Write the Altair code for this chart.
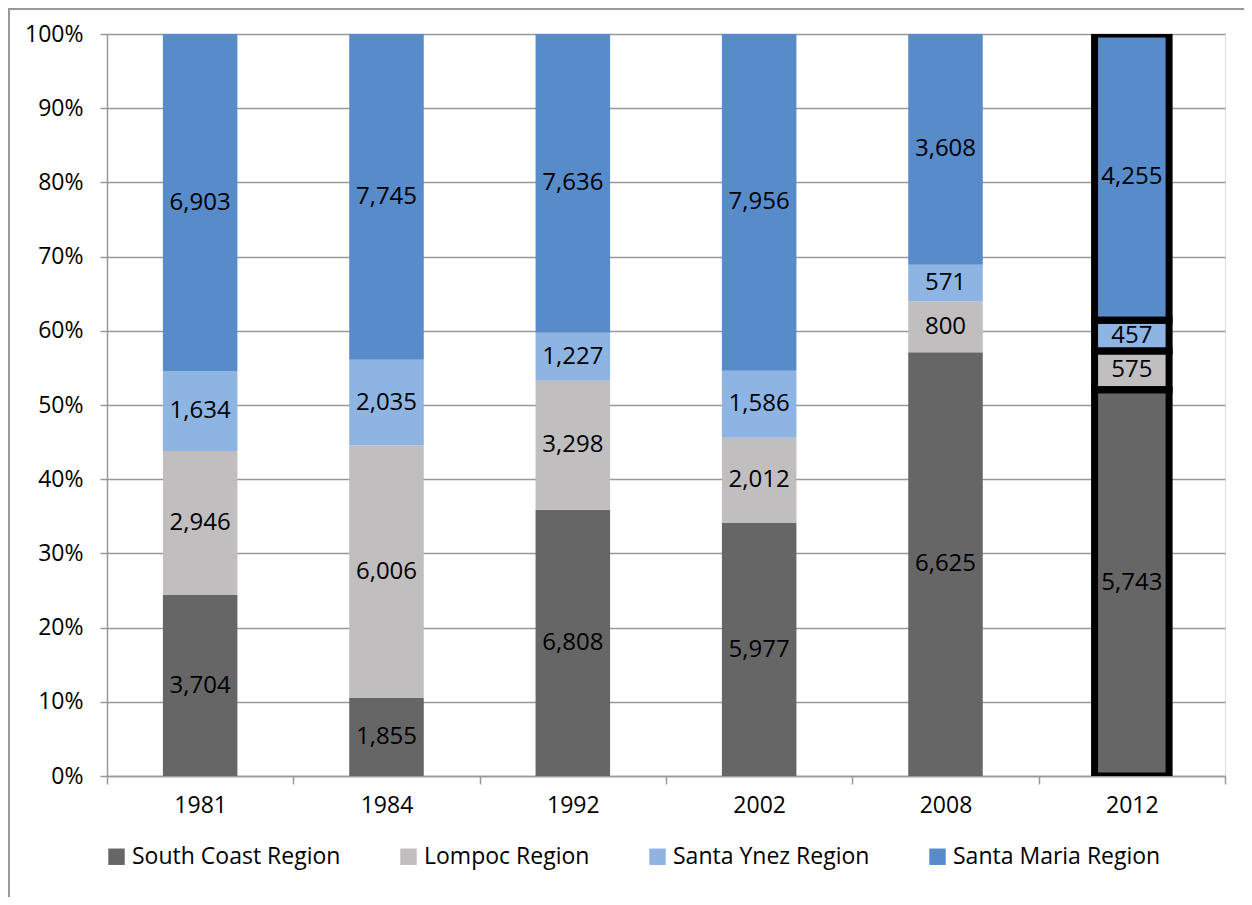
import altair as alt
import pandas as pd

years = ["1981", "1984", "1992", "2002", "2008", "2012"]
regions = ["South Coast Region", "Lompoc Region", "Santa Ynez Region", "Santa Maria Region"]
south_coast = [3704, 1855, 6808, 5977, 6625, 5743]
lompoc = [2946, 6006, 3298, 2012, 800, 575]
santa_ynez = [1634, 2035, 1227, 1586, 571, 457]
santa_maria = [6903, 7745, 7636, 7956, 3608, 4255]
colors = ["#666666", "#C0BEBE", "#8EB4E3", "#588BCA"]

series = [south_coast, lompoc, santa_ynez, santa_maria]
rows = []
for yi, y in enumerate(years):
    for ri, r in enumerate(regions):
        rows.append({"year": y, "region": r, "ord": ri, "value": series[ri][yi]})
df = pd.DataFrame(rows)

FONT = "Open Sans"
W, H = 1118, 742

base = alt.Chart(df).transform_joinaggregate(
    total="sum(value)", groupby=["year"]
).transform_calculate(
    pct="datum.value / datum.total"
).transform_window(
    cum="sum(pct)", sort=[alt.SortField("ord")], groupby=["year"], frame=[None, 0]
).transform_calculate(
    start="datum.cum - datum.pct", mid="datum.cum - datum.pct / 2",
    label="format(datum.value, ',')"
)

xscale = alt.Scale(paddingInner=0, paddingOuter=0)
xenc = alt.X("year:N", sort=years, title=None, scale=xscale,
             axis=alt.Axis(tickBand="extent", labelAngle=0, labelFont=FONT, labelFontSize=23,
                           labelColor="black", domainColor="#999999", domainWidth=1.5,
                           tickColor="#999999", tickWidth=1.5, tickSize=8, labelPadding=10, grid=False))

bars = base.mark_bar(width=alt.RelativeBandSize(0.4)).encode(
    x=xenc,
    y=alt.Y("start:Q", scale=alt.Scale(domain=[0, 1]), title=None,
            axis=alt.Axis(values=[i / 10 for i in range(11)], format=".0%", labelFont=FONT,
                          labelFontSize=23, labelColor="black", gridColor="#999999", gridWidth=1.5,
                          domainColor="#999999", domainWidth=1.5, tickColor="#999999",
                          tickWidth=1.5, tickSize=7, labelPadding=17)),
    y2="cum:Q",
    color=alt.Color("region:N", scale=alt.Scale(domain=regions, range=colors), title=None,
                    legend=alt.Legend(orient="none", legendX=-2, legendY=811, direction="horizontal",
                                      symbolType="square", symbolSize=270, symbolStrokeWidth=0,
                                      labelFont=FONT, labelFontSize=23, labelColor="black",
                                      columnPadding=56, labelOffset=4, labelLimit=400)),
    order=alt.Order("ord:Q"),
)

outline = base.mark_bar(width=alt.RelativeBandSize(0.4), fillOpacity=0, stroke="black",
                        strokeWidth=7, clip=True).encode(
    x=alt.X("year:N", sort=years, scale=xscale),
    y=alt.Y("start:Q"),
    y2="cum:Q",
).transform_filter(alt.datum.year == "2012")

text = base.mark_text(font=FONT, fontSize=24, color="black").encode(
    x=alt.X("year:N", sort=years, scale=xscale),
    y=alt.Y("mid:Q"),
    text="label:N",
)

frame_left = alt.Chart(pd.DataFrame({"a": [0]})).mark_rule(color="#999999", strokeWidth=2).encode(
    x=alt.value(-98), y=alt.value(-26), y2=alt.value(H + 125))
frame_top = alt.Chart(pd.DataFrame({"a": [0]})).mark_rule(color="#999999", strokeWidth=2).encode(
    x=alt.value(-98), x2=alt.value(W + 19), y=alt.value(-25))

chart = alt.layer(bars, outline, text, frame_left, frame_top).properties(
    width=W, height=H,
    autosize=alt.AutoSizeParams(type="none"),
    padding={"left": 99, "top": 26, "right": 19, "bottom": 121},
).configure_view(stroke=None).configure(background="white")

chart.save("out.html", embed_options={"renderer": "svg", "actions": False})
